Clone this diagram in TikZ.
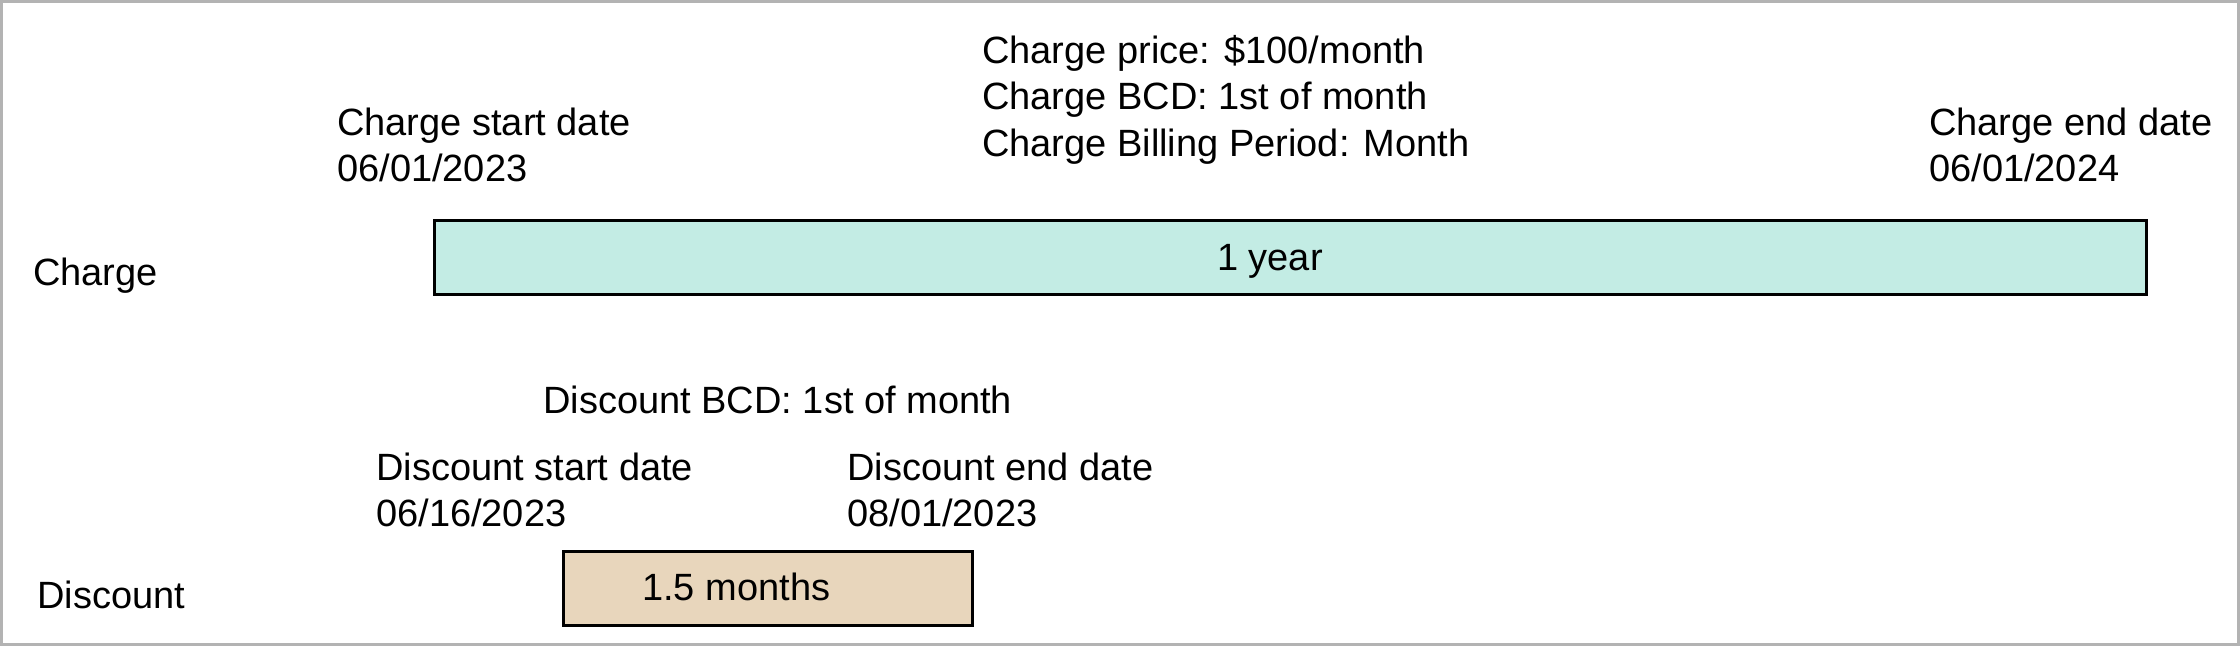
\documentclass[tikz,border=0pt]{standalone}
\usepackage{fontspec}
\setmainfont{Liberation Sans}
\definecolor{chargefill}{HTML}{C3ECE4}
\definecolor{discfill}{HTML}{E8D6BC}
\definecolor{framegray}{HTML}{B3B3B3}
\begin{document}
\begin{tikzpicture}[x=1pt,y=-1pt,
  txt/.style={inner sep=0pt, font=\fontsize{38}{46.5}\selectfont, align=left},
  bar/.style={draw=black, line width=3pt, inner sep=0pt, minimum width=#1, anchor=north west}]
\useasboundingbox (0,0) rectangle (2240,646);
\draw[framegray, line width=3pt] (1.5,1.5) rectangle (2238.5,644.5);

% Charge row
\node[bar=1712pt, minimum height=74pt, fill=chargefill] (chargebar) at (433,219) {};
\node[txt, anchor=base west] (oneyear) at (1217,270) {1 year};
\node[txt, anchor=base west] (chargelbl) at (33,285) {Charge};
\node[txt, anchor=north west] (cstart) at (337,107.5) {Charge start date\\06/01/2023};
\node[txt, anchor=north west] (cinfo) at (982,35) {Charge price: \$100/month\\Charge BCD: 1st of month\\Charge Billing Period: Month};
\node[txt, anchor=north west] (cend) at (1929,107.5) {Charge end date\\06/01/2024};

% Discount row
\node[bar=409pt, minimum height=74pt, fill=discfill] (discbar) at (562,550) {};
\node[txt, anchor=base west] (months) at (642,600) {1.5 months};
\node[txt, anchor=base west] (disclbl) at (37,608) {Discount};
\node[txt, anchor=base west] (dbcd) at (543,413) {Discount BCD: 1st of month};
\node[txt, anchor=north west] (dstart) at (376,452.5) {Discount start date\\06/16/2023};
\node[txt, anchor=north west] (dend) at (847,452.5) {Discount end date\\08/01/2023};
\end{tikzpicture}
\end{document}
